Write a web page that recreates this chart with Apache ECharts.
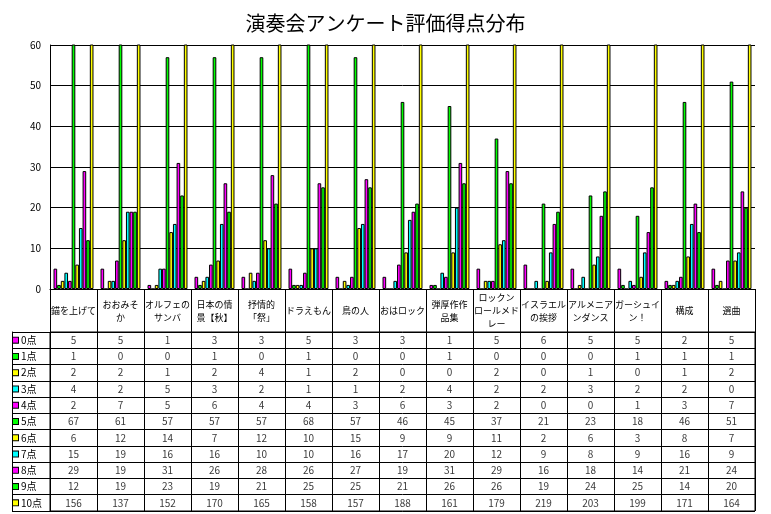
<!DOCTYPE html>
<html>
<head>
<meta charset="utf-8">
<script src="https://cdn.jsdelivr.net/npm/echarts@6/dist/echarts.min.js"></script>
<style>html,body{margin:0;padding:0;background:#fff;}#c{width:771px;height:514px;}</style>
</head>
<body>
<div id="c"></div>
<script>
const titleText = '演奏会アンケート評価得点分布';
const pieces = ['錨を上げて','おおみそ\nか','オルフェの\nサンバ','日本の情\n景【秋】','抒情的\n「祭」','ドラえもん','鳥の人','おはロック','弾厚作作\n品集','ロックン\nロールメド\nレー','イスラエル\nの挨拶','アルメニア\nンダンス','ガーシュイ\nン！','構成','選曲'];
const scoreNames = ['0点','1点','2点','3点','4点','5点','6点','7点','8点','9点','10点'];
const score0  = [5,5,1,3,3,5,3,3,1,5,6,5,5,2,5];
const score1  = [1,0,0,1,0,1,0,0,1,0,0,0,1,1,1];
const score2  = [2,2,1,2,4,1,2,0,0,2,0,1,0,1,2];
const score3  = [4,2,5,3,2,1,1,2,4,2,2,3,2,2,0];
const score4  = [2,7,5,6,4,4,3,6,3,2,0,0,1,3,7];
const score5  = [67,61,57,57,57,68,57,46,45,37,21,23,18,46,51];
const score6  = [6,12,14,7,12,10,15,9,9,11,2,6,3,8,7];
const score7  = [15,19,16,16,10,10,16,17,20,12,9,8,9,16,9];
const score8  = [29,19,31,26,28,26,27,19,31,29,16,18,14,21,24];
const score9  = [12,19,23,19,21,25,25,21,26,26,19,24,25,14,20];
const score10 = [156,137,152,170,165,158,157,188,161,179,219,203,199,171,164];
const yTicks = [0,10,20,30,40,50,60];

const allScores = [score0,score1,score2,score3,score4,score5,score6,score7,score8,score9,score10];
const palette = ['#FF00FF','#00FF00','#FFFF00','#00FFFF'];
const colorOf = i => palette[i % 4];
const FONT = '"Noto Sans CJK JP", sans-serif';

const rich = { t: { fontSize: 10, color: '#000', fontFamily: FONT, padding: [0,0,0,3] } };
scoreNames.forEach((n, i) => {
  rich['k' + i] = { width: 5, height: 5, backgroundColor: colorOf(i), borderColor: '#000', borderWidth: 1 };
});

const barSeries = allScores.map((arr, i) => ({
  type: 'bar', name: scoreNames[i], xAxisIndex: 0, yAxisIndex: 0,
  data: arr, barGap: '0%', barCategoryGap: '15%',
  itemStyle: { color: colorOf(i), borderColor: '#000', borderWidth: 1 },
  emphasis: { disabled: true }, animation: false
}));

const tableData = [];
allScores.forEach((arr, s) => arr.forEach((v, c) => tableData.push([c, s, v])));

const option = {
  animation: false,
  backgroundColor: '#fff',
  textStyle: { fontFamily: FONT },
  title: { text: titleText, left: 'center', top: 8,
    textStyle: { fontSize: 20, fontWeight: 'normal', color: '#000', fontFamily: FONT } },
  grid: [
    { left: 50, right: 16, top: 45, bottom: 225, outerBoundsMode: 'none', containLabel: false },
    { left: 50, right: 16, top: 332, bottom: 3, show: true, borderColor: '#000', borderWidth: 1, outerBoundsMode: 'none', containLabel: false }
  ],
  xAxis: [
    { gridIndex: 0, type: 'category', data: pieces,
      axisLine: { show: true, lineStyle: { color: '#000', width: 1 } },
      axisTick: { show: true, length: 43, interval: 0, alignWithLabel: false, lineStyle: { color: '#000', width: 1 } },
      axisLabel: { interval: 0, fontSize: 9, lineHeight: 13, color: '#000', verticalAlign: 'middle', margin: 22, fontFamily: FONT },
      splitLine: { show: false } },
    { gridIndex: 1, type: 'category', data: pieces,
      axisLine: { show: false }, axisTick: { show: false }, axisLabel: { show: false },
      splitLine: { show: true, interval: 0, lineStyle: { color: '#000', width: 1 } } }
  ],
  yAxis: [
    { gridIndex: 0, type: 'value', min: yTicks[0], max: yTicks[yTicks.length - 1], interval: 10,
      axisLine: { show: true, lineStyle: { color: '#000', width: 1 } },
      axisTick: { show: false },
      axisLabel: { fontSize: 10, color: '#000', margin: 9, fontFamily: FONT },
      splitLine: { show: true, lineStyle: { color: '#000', width: 1 } } },
    { gridIndex: 1, type: 'category', data: scoreNames, inverse: true,
      axisLine: { show: true, lineStyle: { color: '#000', width: 1 } },
      axisTick: { show: true, length: 38, interval: 0, alignWithLabel: false, lineStyle: { color: '#000', width: 1 } },
      axisLabel: { interval: 0, margin: 37, align: 'left', formatter: (v, i) => '{k' + i + '|}{t|' + v + '}', rich: rich },
      splitLine: { show: true, interval: 0, lineStyle: { color: '#000', width: 1 } } },
    { gridIndex: 1, type: 'category', data: scoreNames, inverse: true, offset: 38, position: 'left',
      axisLine: { show: true, lineStyle: { color: '#000', width: 1 } },
      axisTick: { show: false }, axisLabel: { show: false }, splitLine: { show: false } }
  ],
  series: barSeries.concat([{
    type: 'scatter', xAxisIndex: 1, yAxisIndex: 1, data: tableData,
    symbolSize: 0, itemStyle: { color: 'rgba(0,0,0,0)' },
    label: { show: true, position: 'inside', formatter: p => String(p.value[2]), fontSize: 10, color: '#000', fontFamily: FONT },
    emphasis: { disabled: true }, silent: true
  }])
};

const chart = echarts.init(document.getElementById('c'), null, { renderer: 'canvas' });
chart.setOption(option);
</script>
</body>
</html>
